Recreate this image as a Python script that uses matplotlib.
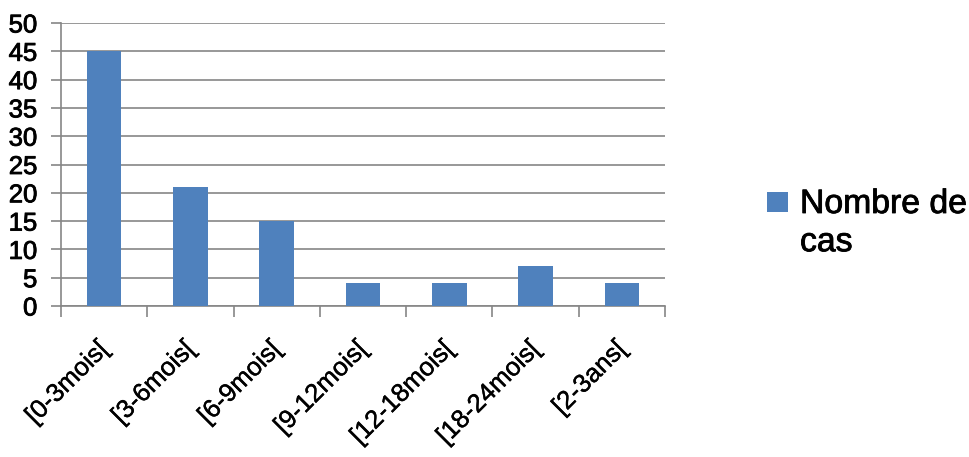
import matplotlib
matplotlib.use("Agg")
import matplotlib.pyplot as plt
import matplotlib.transforms as mtransforms
import matplotlib.patheffects as pe
from matplotlib.patches import Rectangle
import numpy as np

categories = ["[0-3mois[", "[3-6mois[", "[6-9mois[", "[9-12mois[", "[12-18mois[", "[18-24mois[", "[2-3ans["]
values = [45, 21, 15, 4, 4, 7, 4]
series_name = "Nombre de\ncas"
yticks = [0, 5, 10, 15, 20, 25, 30, 35, 40, 45, 50]

plt.rcParams['font.family'] = ['Liberation Sans', 'DejaVu Sans']
bar_color = "#4F81BD"
grid_color = "#868686"
heavy = [pe.withStroke(linewidth=0.6, foreground='black')]
light = [pe.withStroke(linewidth=0.3, foreground='black')]

fig = plt.figure(figsize=(9.69, 4.57), dpi=100)
ax = fig.add_axes([61/969, 1-306/457, (665-61)/969, (306-23)/457])

x = np.arange(len(categories))
ax.bar(x, values, width=0.40, color=bar_color, zorder=3)

ax.set_xlim(-0.5, len(categories) - 0.5)
ax.set_ylim(0, 50)
ax.set_yticks(yticks)
ax.set_yticklabels([str(v) for v in yticks], fontsize=18.5)
ax.yaxis.grid(True, color=grid_color, linewidth=1.2, zorder=0)

ax.set_xticks(x)
ax.set_xticklabels(categories, fontsize=18.5, rotation=45, ha='right', va='center', rotation_mode='anchor')
ax.set_xticks(np.arange(-0.5, len(categories), 1.0), minor=True)
ax.tick_params(axis='x', which='major', length=0, pad=28)
ax.tick_params(axis='x', which='minor', length=8, color=grid_color, width=1.2)
ax.tick_params(axis='y', length=7, color=grid_color, width=1.2, pad=10)

offset = mtransforms.ScaledTranslation(1/100, 0, fig.dpi_scale_trans)
for lbl in ax.get_xticklabels():
    lbl.set_transform(lbl.get_transform() + offset)
    lbl.set_path_effects(light)
for lbl in ax.get_yticklabels():
    lbl.set_path_effects(heavy)

for s in ['top', 'right']:
    ax.spines[s].set_visible(False)
for s in ['left', 'bottom']:
    ax.spines[s].set_color(grid_color)
    ax.spines[s].set_linewidth(1.2)

# legend
fig.patches.append(Rectangle((767/969, 1-212/457), 21/969, 20/457, transform=fig.transFigure,
                             facecolor=bar_color, edgecolor='none'))
fig.text(800/969, 1-189/457, series_name, fontsize=24.3, va='top', ha='left',
         transform=fig.transFigure, linespacing=1.3, path_effects=heavy)

fig.savefig("out.png", dpi=100)
